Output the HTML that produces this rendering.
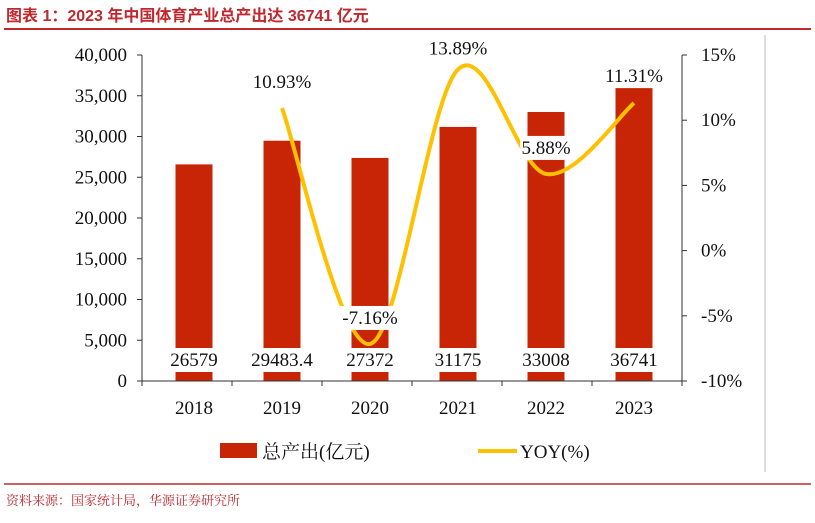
<!DOCTYPE html>
<html><head><meta charset="utf-8"><style>
body{margin:0;width:815px;height:518px;background:#fff;overflow:hidden;font-family:"Liberation Serif","Noto Serif CJK SC",serif;}
</style></head><body>
<svg width="815" height="518" xmlns="http://www.w3.org/2000/svg">
<text x="6" y="21" font-family="Liberation Sans,'Noto Sans CJK SC',sans-serif" font-weight="bold" font-size="16" fill="#C0282E">图表 1：2023 年中国体育产业总产出达 36741 亿元</text>
<line x1="4" y1="29" x2="811" y2="29" stroke="#C0282E" stroke-width="2"/>
<line x1="765" y1="35" x2="765" y2="472" stroke="#bbb" stroke-width="1"/>
<g id="plot"></g>
<line x1="4" y1="484" x2="811" y2="484" stroke="#C0282E" stroke-width="1.5"/>
<text x="6" y="505" font-family="'Noto Serif CJK SC',serif" font-size="13" fill="#C0282E">资料来源：国家统计局，华源证券研究所</text>
<rect x="220" y="443" width="37" height="15" fill="#C82506"/>
<text x="262" y="458" font-size="19" fill="#111">总产出(亿元)</text>
<line x1="478" y1="451" x2="517" y2="451" stroke="#FFC000" stroke-width="4"/>
<text x="520" y="458" font-size="19" fill="#111">YOY(%)</text>
</svg>
<script>
const categories=["2018","2019","2020","2021","2022","2023"];
const outputValues=[26579,29483.4,27372,31175,33008,36741];
const outputLabels=["26579","29483.4","27372","31175","33008","36741"];
const yoyValues=[null,10.93,-7.16,13.89,5.88,11.31];
const yoyLabels=["","10.93%","-7.16%","13.89%","5.88%","11.31%"];
const leftTicks=[0,5000,10000,15000,20000,25000,30000,35000,40000];
const rightTicks=[-10,-5,0,5,10,15];
const NS="http://www.w3.org/2000/svg";
const g=document.getElementById('plot');
const topY=55,botY=381,axL=142,axR=682,catL=150,catW=88;
const yL=v=>botY-(v/40000)*(botY-topY);
const yR=v=>botY-((v+10)/25)*(botY-topY);
const xC=i=>catL+catW*(i+0.5);
function el(t,a,txt){const e=document.createElementNS(NS,t);for(const k in a)e.setAttribute(k,a[k]);if(txt!==undefined)e.textContent=txt;g.appendChild(e);return e;}
let e;
e=el('line',{x1:axL,y1:topY,x2:axL,y2:botY,stroke:'#333','stroke-width':1});


e=el('line',{x1:axR,y1:topY,x2:axR,y2:botY,stroke:'#333','stroke-width':1});


leftTicks.forEach(v=>{
 e=el('line',{x1:axL-5,y1:yL(v),x2:axL,y2:yL(v),stroke:'#333'});
 
 
 e=el('text',{x:axL-15,y:yL(v)+6,'text-anchor':'end','font-size':19,fill:'#111'},v.toLocaleString('en-US'));
 
 
});
rightTicks.forEach(v=>{
 e=el('line',{x1:axR,y1:yR(v),x2:axR+5,y2:yR(v),stroke:'#333'});
 
 
 e=el('text',{x:axR+19,y:yR(v)+6,'font-size':19,fill:'#111'},v+'%');
 
 
});
categories.forEach((c,i)=>{
 e=el('rect',{x:xC(i)-18.5,y:yL(outputValues[i]),width:37,height:botY-yL(outputValues[i]),fill:'#C82506'});
 
 
});
e=el('line',{x1:axL,y1:botY,x2:axR,y2:botY,stroke:'#333'});


for(let i=0;i<=6;i++){e=el('line',{x1:axL+i*90,y1:botY,x2:axL+i*90,y2:botY+5,stroke:'#333'});
 
 }
categories.forEach((c,i)=>{
 e=el('text',{x:xC(i),y:414,'text-anchor':'middle','font-size':19,fill:'#111'},c);
 
 
});
const pts=[];yoyValues.forEach((v,i)=>{if(v!==null)pts.push([xC(i),yR(v)]);});
let d='M'+pts[0][0]+','+pts[0][1];
for(let i=0;i<pts.length-1;i++){const p0=pts[Math.max(0,i-1)],p1=pts[i],p2=pts[i+1],p3=pts[Math.min(pts.length-1,i+2)];
 const c1=[p1[0]+(p2[0]-p0[0])/6,p1[1]+(p2[1]-p0[1])/6],c2=[p2[0]-(p3[0]-p1[0])/6,p2[1]-(p3[1]-p1[1])/6];
 d+=` C${c1[0]},${c1[1]} ${c2[0]},${c2[1]} ${p2[0]},${p2[1]}`;}
e=el('path',{d:d,fill:'none',stroke:'#FFC000','stroke-width':4});


function lab(x,y,t,name){
 const w=t.length*9.5+4;
 e=el('rect',{x:x-w/2,y:y-18,width:w,height:24,fill:'#fff'});
 
 
 e=el('text',{x:x,y:y,'text-anchor':'middle','font-size':19,fill:'#111'},t);
 
 
}
categories.forEach((c,i)=>lab(xC(i),366,outputLabels[i],'bar-value-label'));
const yoyOff=[0,-20,-22,-15,-20,-21];
yoyValues.forEach((v,i)=>{if(v===null)return;let y=yR(v)+yoyOff[i];if(v<0)y=yR(v)-20;lab(xC(i),y,yoyLabels[i],'yoy-value-label');});
</script>
</body></html>
